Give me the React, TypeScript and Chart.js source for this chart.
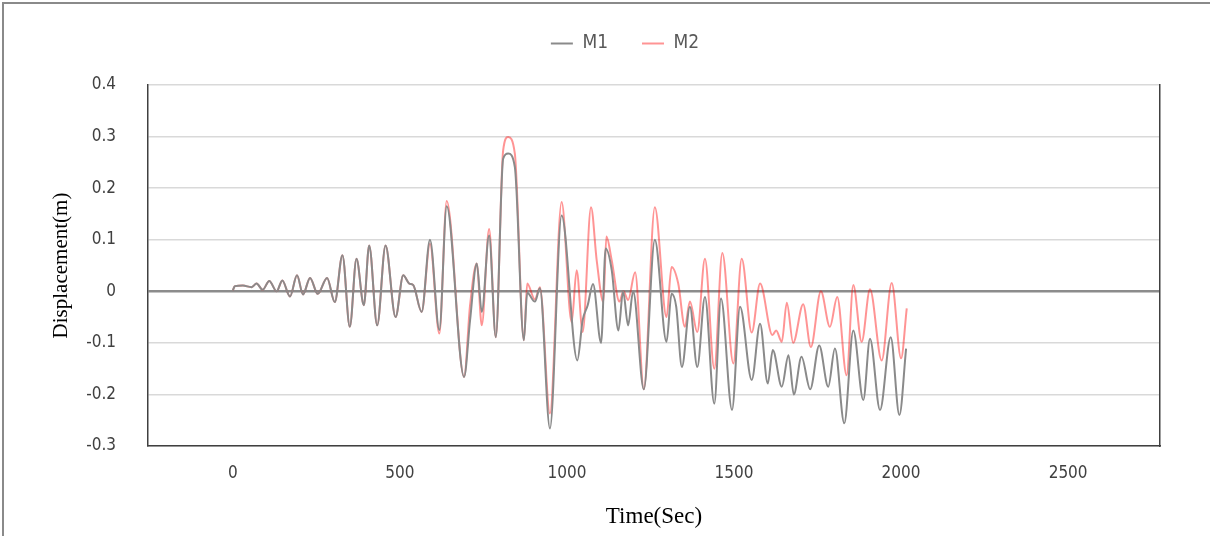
import React, { useEffect, useRef } from "react";
import { Chart, registerables } from "chart.js";

Chart.register(...registerables);

// ---- data ----
const m1Time = [
  0, 6, 30, 56, 71, 89, 109, 131, 148, 171,
  192, 210, 231, 254, 282, 305, 328, 350, 370, 392,
  408, 432, 457, 487, 510, 528, 540, 565, 590, 618,
  640, 692, 710, 730, 745, 767, 787, 809, 824, 844,
  871, 881, 904, 919, 949, 984, 1031, 1047, 1062, 1078,
  1102, 1116, 1134, 1154, 1168, 1183, 1198, 1230, 1263, 1298,
  1313, 1327, 1344, 1368, 1390, 1413, 1441, 1461, 1494, 1518,
  1553, 1578, 1601, 1616, 1643, 1663, 1679, 1702, 1728, 1755,
  1782, 1802, 1830, 1857, 1887, 1907, 1937, 1969, 1995, 2015,
];
const m1Disp = [
  0.002, 0.01, 0.011, 0.008, 0.015, 0.003, 0.02, 0.0, 0.021, -0.01,
  0.031, -0.006, 0.026, -0.005, 0.026, -0.021, 0.07, -0.069, 0.063, -0.027,
  0.089, -0.066, 0.089, -0.05, 0.031, 0.015, 0.012, -0.04, 0.1, -0.075,
  0.165, -0.166, -0.056, 0.054, -0.04, 0.108, -0.089, 0.257, 0.267, 0.241,
  -0.095, -0.003, -0.02, 0.006, -0.266, 0.147, -0.134, -0.056, -0.027, 0.014,
  -0.1, 0.083, 0.041, -0.076, 0.0, -0.066, 0.0, -0.19, 0.1, -0.098,
  -0.005, -0.03, -0.147, -0.03, -0.147, -0.011, -0.218, -0.014, -0.23, -0.03,
  -0.172, -0.063, -0.179, -0.114, -0.185, -0.124, -0.2, -0.127, -0.19, -0.105,
  -0.185, -0.111, -0.256, -0.076, -0.211, -0.092, -0.23, -0.089, -0.24, -0.111,
];

const m2Time = [
  0, 6, 30, 56, 71, 89, 109, 131, 148, 171,
  192, 210, 231, 254, 282, 305, 328, 350, 370, 392,
  408, 432, 457, 487, 510, 528, 540, 565,
  590, 618, 640, 692, 710, 730, 745, 767, 787, 809,
  824, 844, 871, 881, 904, 919, 949, 984, 1014, 1029,
  1047, 1072, 1089, 1109, 1118, 1134, 1157, 1169, 1183, 1204,
  1230, 1263, 1298, 1313, 1333, 1353, 1368, 1390, 1413, 1441,
  1465, 1498, 1523, 1553, 1578, 1615, 1626, 1643, 1658, 1677,
  1707, 1730, 1760, 1787, 1809, 1837, 1857, 1882, 1907, 1942,
  1972, 2000, 2017,
];
const m2Disp = [
  0.002, 0.01, 0.011, 0.008, 0.015, 0.003, 0.02, 0.0, 0.021, -0.01,
  0.031, -0.006, 0.026, -0.005, 0.026, -0.021, 0.07, -0.069, 0.063, -0.027,
  0.089, -0.066, 0.089, -0.05, 0.031, 0.015, 0.012, -0.04,
  0.092, -0.082, 0.175, -0.166, -0.027, 0.054, -0.066, 0.121, -0.089, 0.273,
  0.299, 0.267, -0.095, 0.015, -0.016, 0.008, -0.237, 0.173, -0.06, 0.041,
  -0.079, 0.163, 0.06, -0.021, 0.106, 0.06, -0.02, 0.0, -0.017, 0.037,
  -0.19, 0.163, -0.05, 0.047, 0.015, -0.069, -0.02, -0.079, 0.063, -0.15,
  0.074, -0.14, 0.063, -0.08, 0.015, -0.085, -0.076, -0.098, -0.022, -0.1,
  -0.025, -0.108, 0.0, -0.069, -0.011, -0.163, 0.012, -0.098, 0.004, -0.134,
  0.016, -0.13, -0.033,
];

const xTickValues = [0, 500, 1000, 1500, 2000, 2500];
const seriesLabels = ["M1", "M2"];

const SANS = "'Liberation Sans Narrow', 'DejaVu Sans Condensed', 'Liberation Sans', sans-serif";
const SERIF = "'Liberation Serif', 'DejaVu Serif', serif";

export default function App() {
  const canvasRef = useRef<HTMLCanvasElement | null>(null);

  useEffect(() => {
    const canvas = canvasRef.current;
    if (!canvas) return;
    const chart = new Chart(canvas, {
      type: "line",
      data: {
        datasets: [
          {
            label: seriesLabels[0],
            data: m1Time.map((t, i) => ({ x: t, y: m1Disp[i] })),
            borderColor: "#8a8a8a",
            backgroundColor: "#8a8a8a",
            borderWidth: 2,
            pointRadius: 0,
            fill: false,
            cubicInterpolationMode: "monotone",
          },
          {
            label: seriesLabels[1],
            data: m2Time.map((t, i) => ({ x: t, y: m2Disp[i] })),
            borderColor: "rgba(255,0,0,0.42)",
            backgroundColor: "rgba(255,0,0,0.42)",
            borderWidth: 2,
            pointRadius: 0,
            fill: false,
            cubicInterpolationMode: "monotone",
          },
        ],
      },
      options: {
        responsive: false,
        animation: false,
        events: [],
        layout: { padding: { left: 45, right: 5, top: 0, bottom: 4 } },
        plugins: {
          legend: {
            display: true,
            position: "top",
            labels: {
              usePointStyle: true,
              pointStyle: "line",
              pointStyleWidth: 22,
              padding: 34,
              color: "#595959",
              font: { family: SANS, size: 19 },
              sort: (a: any, b: any) => a.datasetIndex - b.datasetIndex,
            },
          },
          tooltip: { enabled: false },
        },
        scales: {
          x: {
            type: "linear",
            position: "bottom",
            min: -254,
            max: 2775,
            afterBuildTicks: (scale: any) => {
              scale.ticks = xTickValues.map((v) => ({ value: v }));
            },
            afterFit: (scale: any) => {
              scale.height = 86;
            },
            grid: { display: false, drawTicks: false },
            border: { display: true, color: "#404040", width: 1.5 },
            ticks: {
              padding: 17,
              maxRotation: 0,
              autoSkip: false,
              color: "#404040",
              font: { family: SANS, size: 17 },
              callback: (v: any) => String(v),
            },
            title: {
              display: true,
              text: "Time(Sec)",
              color: "#000",
              font: { family: SERIF, size: 23 },
              padding: { top: 0, bottom: 1 },
            },
          },
          xTop: {
            type: "linear",
            position: "top",
            display: true,
            afterFit: (scale: any) => {
              scale.height = 22;
            },
            grid: { display: false, drawTicks: false },
            border: { display: false },
            ticks: { display: false },
          },
          y: {
            type: "linear",
            position: "left",
            min: -0.3,
            max: 0.4,
            afterFit: (scale: any) => {
              scale.width = 103;
            },
            grid: {
              drawTicks: false,
              color: (ctx: any) =>
                Math.abs(ctx.tick?.value ?? 1) < 1e-9 ? "#8c8c8c" : "#d9d9d9",
              lineWidth: (ctx: any) =>
                Math.abs(ctx.tick?.value ?? 1) < 1e-9 ? 2.5 : 1.5,
            },
            border: { display: true, color: "#404040", width: 1.5 },
            ticks: {
              stepSize: 0.1,
              padding: 32,
              color: "#404040",
              font: { family: SANS, size: 17 },
              callback: (v: any) => {
                const n = Math.round(Number(v) * 10) / 10;
                return n === 0 ? "0" : n.toFixed(1);
              },
            },
            title: {
              display: true,
              text: "Displacement(m)",
              color: "#000",
              font: { family: SERIF, size: 21 },
              padding: { top: 4, bottom: 0 },
            },
          },
          yRight: {
            type: "linear",
            position: "right",
            display: true,
            afterFit: (scale: any) => {
              scale.width = 45;
            },
            grid: { display: false, drawTicks: false },
            border: { display: true, color: "#404040", width: 1.5 },
            ticks: { display: false },
          },
        },
      } as any,
    });
    return () => chart.destroy();
  }, []);

  return (
    <div
      style={{
        position: "absolute",
        left: 0,
        top: 0,
        width: 1210,
        height: 536,
        overflow: "hidden",
        background: "#ffffff",
      }}
    >
      <div
        style={{
          position: "absolute",
          left: 2,
          top: 2,
          width: 1400,
          height: 800,
          borderLeft: "2px solid #8a8a8a",
          borderTop: "2px solid #8a8a8a",
        }}
      />
      <canvas
        ref={canvasRef}
        width={1210}
        height={536}
        style={{ position: "absolute", left: 0, top: 0, width: 1210, height: 536 }}
      />
    </div>
  );
}
